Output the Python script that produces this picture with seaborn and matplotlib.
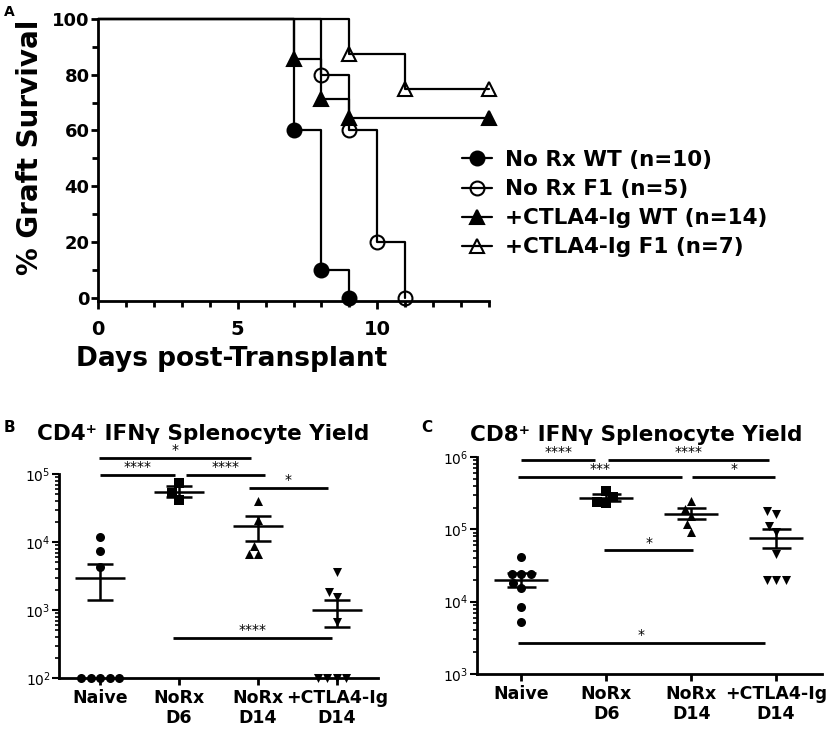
import numpy as np
import pandas as pd
import seaborn as sns
import matplotlib.pyplot as plt
from matplotlib.lines import Line2D
from matplotlib.ticker import MultipleLocator

sns.set_style("ticks")
plt.rcParams['font.family'] = ['DejaVu Sans']
plt.rcParams.update({"text.color": "k", "axes.labelcolor": "k", "axes.edgecolor": "k",
                     "xtick.color": "k", "ytick.color": "k"})

# Panel A - graft survival (Kaplan-Meier steps)
surv_labels = ["No Rx WT (n=10)", "No Rx F1 (n=5)", "+CTLA4-Ig WT (n=14)", "+CTLA4-Ig F1 (n=7)"]
surv_days = [[0, 7, 8, 9], [0, 8, 9, 10, 11], [0, 7, 8, 9, 14], [0, 9, 11, 14]]
surv_pct = [[100, 60, 10, 0], [100, 80, 60, 20, 0], [100, 85.7, 71.4, 64.3, 64.3], [100, 87.5, 75, 75]]

# Panels B and C - splenocyte yields
groups = ["Naive", "NoRx\nD6", "NoRx\nD14", "+CTLA4-Ig\nD14"]

cd4_vals = [[12000, 7400, 4300, 100, 100, 100, 100, 100],
            [74000, 52000, 42000],
            [40000, 21000, 8700, 6600, 6600],
            [3600, 1850, 1560, 660, 100, 100, 100, 100]]
cd4_mean = [3000, 55000, 17000, 1000]
cd4_sem_lo = [1400, 46000, 10300, 560]
cd4_sem_hi = [4800, 66000, 24000, 1420]
# (from group pos, to group pos, height, label)
cd4_sig = [(-0.01, 1.91, 1.72e5, "*"), (0.0, 0.95, 9.7e4, "****"), (1.09, 2.09, 9.7e4, "****"),
           (1.88, 2.89, 6.2e4, "*"), (0.92, 2.94, 390, "****")]

cd8_vals = [[42000, 24500, 24500, 24500, 18000, 15500, 8500, 5300],
            [340000, 280000, 235000, 230000],
            [250000, 190000, 152000, 117000, 91000],
            [178000, 162000, 110000, 91000, 45000, 20000, 20000, 20000]]
cd8_mean = [20000, 270000, 162000, 77000]
cd8_sem_lo = [16000, 245000, 138000, 56000]
cd8_sem_hi = [25000, 310000, 195000, 100000]
cd8_sig = [(0.0, 0.87, 9.1e5, "****"), (1.02, 2.92, 9.1e5, "****"), (-0.04, 1.89, 5.3e5, "***"),
           (2.01, 2.99, 5.3e5, "*"), (0.98, 2.02, 5.1e4, "*"), (-0.04, 2.87, 2700, "*")]

surv_markers = ["o", "o", "^", "^"]
surv_faces = ["k", "none", "k", "none"]
dot_markers = ["o", "s", "^", "v"]

fig = plt.figure(figsize=(8.3, 7.3), dpi=100)

# ---------------- Panel A ----------------
axA = fig.add_axes([98/830, 1-301/730, 391/830, 282/730])
for days, pct, m, fc in zip(surv_days, surv_pct, surv_markers, surv_faces):
    sns.lineplot(x=days, y=pct, ax=axA, color="k", lw=1.6, drawstyle="steps-post",
                 estimator=None, errorbar=None, marker=m, markevery=list(range(1, len(days))),
                 markersize=10, markerfacecolor=fc, markeredgecolor="k", markeredgewidth=1.5,
                 clip_on=False)
axA.set_xlim(0, 14)
axA.set_ylim(-1.2, 100)
axA.set_xticks([0, 5, 10])
axA.xaxis.set_minor_locator(MultipleLocator(1))
axA.set_yticks(range(0, 101, 20))
axA.yaxis.set_minor_locator(MultipleLocator(10))
for s in ["left", "bottom"]:
    axA.spines[s].set_linewidth(2)
sns.despine(ax=axA)
axA.tick_params(axis="x", which="major", length=6, width=2, pad=8, labelsize=14)
axA.tick_params(axis="x", which="minor", length=4, width=2)
axA.tick_params(axis="y", which="major", length=5, width=2, pad=1, labelsize=13)
axA.tick_params(axis="y", which="minor", length=4, width=2)
for lab in axA.get_xticklabels() + axA.get_yticklabels():
    lab.set_fontweight("bold")
axA.set_xlabel("")
axA.set_ylabel("")
fig.text(30/830, 1-147/730, "% Graft Survival", rotation=90, ha="center", va="center",
         fontsize=20, fontweight="bold")
fig.text(232/830, 1-359/730, "Days post-Transplant", ha="center", va="center",
         fontsize=19, fontweight="bold")

handles = [Line2D([], [], color="k", lw=1.6, marker=m, markersize=10, markerfacecolor=fc,
                  markeredgecolor="k", markeredgewidth=1.5)
           for m, fc in zip(surv_markers, surv_faces)]
fig.legend(handles, surv_labels, loc="upper left", bbox_to_anchor=(462/830, 1-150/730),
           frameon=False, prop={"weight": "bold", "size": 15.5},
           handlelength=1.4, handletextpad=0.6, labelspacing=0.42, borderaxespad=0, borderpad=0)


# ---------------- Panels B, C ----------------
def dot_panel(ax, vals, means, lo, hi, sig, ylim, xmax):
    for i, v in enumerate(vals):
        sns.swarmplot(x=[groups[i]] * len(v), y=v, order=groups, marker=dot_markers[i],
                      color="k", size=6.5, log_scale=True, ax=ax)
    for c in ax.collections:
        c.set_clip_on(False)
    pos = np.arange(len(groups))
    ax.hlines(means, pos - 0.32, pos + 0.32, color="k", lw=1.8, zorder=4)
    ax.vlines(pos, lo, hi, color="k", lw=1.8, zorder=4)
    ax.hlines(lo, pos - 0.17, pos + 0.17, color="k", lw=1.8, zorder=4)
    ax.hlines(hi, pos - 0.17, pos + 0.17, color="k", lw=1.8, zorder=4)
    for x1, x2, y, lab in sig:
        ax.plot([x1, x2], [y, y], color="k", lw=2, clip_on=False, solid_capstyle="butt")
        ax.annotate(lab, xy=((x1 + x2) / 2, y), xytext=(0, 0.5), textcoords="offset points",
                    ha="center", va="bottom", fontsize=10, annotation_clip=False)
    ax.set_ylim(*ylim)
    ax.set_xlim(-0.52, xmax)
    ax.set_xticks(pos)
    ax.set_xticklabels(groups, fontsize=12.5, fontweight="bold", linespacing=1.15)
    for s in ["left", "bottom"]:
        ax.spines[s].set_linewidth(2)
    sns.despine(ax=ax)
    ax.tick_params(axis="x", length=5, width=2, pad=3)
    ax.tick_params(axis="y", which="major", length=5, width=1.5, pad=1, labelsize=10)
    ax.tick_params(axis="y", which="minor", length=3, width=1.2)
    ax.set_xlabel("")
    ax.set_ylabel("")


axB = fig.add_axes([59/830, 1-678/730, 319/830, 204/730])
dot_panel(axB, cd4_vals, cd4_mean, cd4_sem_lo, cd4_sem_hi, cd4_sig, (1e2, 1e5), 3.52)

axC = fig.add_axes([477/830, 1-674/730, 345/830, 217/730])
dot_panel(axC, cd8_vals, cd8_mean, cd8_sem_lo, cd8_sem_hi, cd8_sig, (1e3, 1e6), 3.54)

fig.text(203/830, 1-434/730, "CD4⁺ IFNγ Splenocyte Yield", ha="center", va="center",
         fontsize=15.5, fontweight="bold")
fig.text(636/830, 1-435/730, "CD8⁺ IFNγ Splenocyte Yield", ha="center", va="center",
         fontsize=15.5, fontweight="bold")

fig.text(4/830, 1-12/730, "A", ha="left", va="center", fontsize=10, fontweight="bold")
fig.text(4/830, 1-427/730, "B", ha="left", va="center", fontsize=11, fontweight="bold")
fig.text(421/830, 1-428/730, "C", ha="left", va="center", fontsize=11, fontweight="bold")

fig.savefig("out.png", dpi=100)
